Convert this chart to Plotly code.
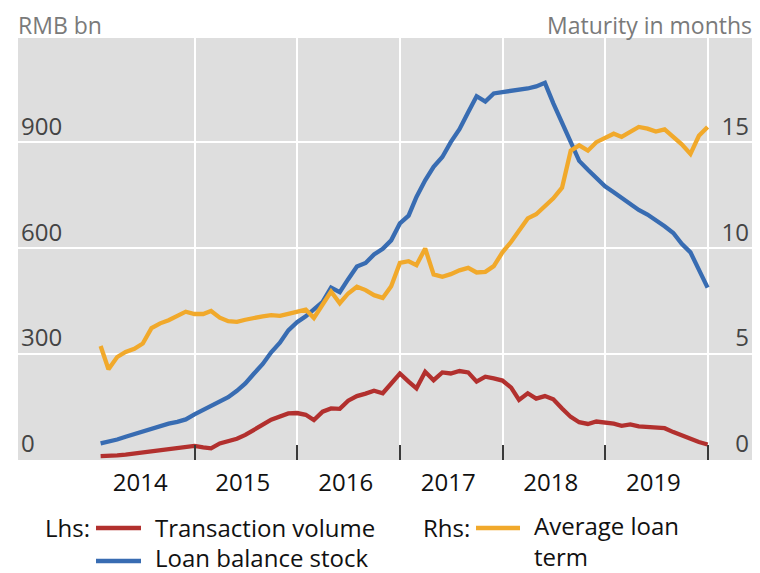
import plotly.graph_objects as go
import pandas as pd

# ---------------- data ----------------
months = pd.date_range("2014-01-31", periods=72, freq=pd.offsets.MonthEnd())

transaction_volume = [
    11, 11, 13, 15, 18, 21, 24, 26, 29, 32, 35, 40,
    36, 33, 47, 54, 60, 71, 84, 100, 114, 123, 132, 133,
    128, 113, 137, 146, 145, 168, 181, 188, 196, 189, 217, 245,
    222, 203, 250, 226, 248, 245, 252, 248, 222, 236, 231, 225,
    205, 170, 189, 174, 181, 172, 146, 122, 107, 102, 109, 106,
    103, 97, 101, 95, 94, 90, 90, 79, 69, 58, 51, 44,
]

loan_balance_stock = [
    47, 51, 58, 66, 74, 82, 89, 96, 103, 108, 115, 129,
    141, 153, 165, 178, 196, 217, 245, 272, 305, 332, 367, 390,
    407, 427, 448, 488, 475, 512, 548, 558, 582, 598, 622, 670,
    692, 745, 792, 830, 858, 900, 937, 985, 1030, 1015, 1038, 1042,
    1045, 1050, 1052, 1058, 1068, 1010, 957, 897, 847, 822, 800, 775,
    758, 742, 727, 708, 695, 680, 662, 643, 612, 588, 540, 488,
]

average_loan_term = [
    5.38, 4.28, 4.86, 5.10, 5.25, 5.50, 6.22, 6.45, 6.60, 6.80, 7.00, 6.89,
    6.89, 7.03, 6.72, 6.55, 6.52, 6.62, 6.72, 6.78, 6.84, 6.80, 6.90, 6.98,
    7.10, 6.70, 7.30, 7.95, 7.40, 7.86, 8.18, 8.02, 7.78, 7.65, 8.20, 9.30,
    9.38, 9.20, 9.98, 8.76, 8.65, 8.77, 8.95, 9.07, 8.85, 8.88, 9.15, 9.80,
    10.30, 10.85, 11.40, 11.60, 12.00, 12.35, 12.85, 14.60, 14.85, 14.60, 15.00, 15.20,
    15.40, 15.25, 15.50, 15.72, 15.64, 15.50, 15.60, 15.25, 14.90, 14.45, 15.30, 15.72,
]

year_labels = ["2014", "2015", "2016", "2017", "2018", "2019"]
year_label_dates = ["2014-06-21", "2015-06-21", "2016-06-21", "2017-06-21", "2018-06-21", "2019-06-21"]
year_boundaries = ["2015-01-01", "2016-01-01", "2017-01-01", "2018-01-01", "2019-01-01", "2020-01-01"]

lhs_ticks = [0, 300, 600, 900]
rhs_ticks = [0, 5, 10, 15]

# ---------------- styling ----------------
RED = "#b2302e"
BLUE = "#386cb2"
ORANGE = "#f1a92b"
FONT = "Open Sans"

OFF = 8                      # page body margin of the browser
W, H = 760 - OFF, 573 - OFF  # figure size so that the page fits the window
PL, PR, PT, PB = 18, 752, 38, 460   # plot area in window pixels
L, R, T, B = PL - OFF, (W + OFF) - PR, PT - OFF, (H + OFF) - PB
LHS_MAX = 1195
RHS_MAX = LHS_MAX / 60.0


def px(x):
    return (x - PL) / (PR - PL)


def py(y):
    return (PB - y) / (PB - PT)


fig = go.Figure()
fig.add_trace(go.Scatter(x=months, y=average_loan_term, mode="lines", name="Average loan term",
                         line=dict(color=ORANGE, width=4.3), yaxis="y2"))
fig.add_trace(go.Scatter(x=months, y=transaction_volume, mode="lines", name="Transaction volume",
                         line=dict(color=RED, width=4.3)))
fig.add_trace(go.Scatter(x=months, y=loan_balance_stock, mode="lines", name="Loan balance stock",
                         line=dict(color=BLUE, width=4.3)))

fig.update_layout(
    width=W, height=H,
    margin=dict(l=L, r=R, t=T, b=B, pad=0),
    paper_bgcolor="white",
    plot_bgcolor="#dedede",
    showlegend=False,
    font=dict(family=FONT, size=24, color="#111111"),
    xaxis=dict(
        type="date",
        range=["2013-04-12", "2020-06-06"],
        tickmode="array", tickvals=year_label_dates, ticktext=year_labels,
        ticks="", showgrid=False, zeroline=False, showline=False,
        ticklabelstandoff=6,
        minor=dict(tickmode="array", tickvals=year_boundaries, ticks="inside",
                   ticklen=15, tickwidth=2, tickcolor="#3a3a3a",
                   showgrid=True, gridcolor="white", gridwidth=2),
    ),
    yaxis=dict(
        range=[0, LHS_MAX], tickmode="array", tickvals=lhs_ticks,
        ticktext=[str(v) for v in lhs_ticks],
        showgrid=True, gridcolor="white", gridwidth=2, zeroline=False, showline=False,
        ticks="", ticklabelposition="inside", ticklabelshift=-16,
        ticklabeloverflow="allow",
    ),
    yaxis2=dict(
        overlaying="y", side="right",
        range=[0, RHS_MAX], tickmode="array", tickvals=rhs_ticks,
        ticktext=[str(v) for v in rhs_ticks],
        showgrid=False, zeroline=False, showline=False,
        ticks="", ticklabelposition="inside", ticklabelshift=-16,
        ticklabeloverflow="allow",
    ),
)

annotations = [
    dict(text="RMB bn", x=px(16), y=py(24.5), xanchor="left", yanchor="middle",
         font=dict(size=23, color="#7a7a7a")),
    dict(text="Maturity in months", x=px(754), y=py(24.5), xanchor="right", yanchor="middle",
         font=dict(size=23, color="#7a7a7a")),
    dict(text="Lhs:", x=px(43), y=py(527), xanchor="left", yanchor="middle"),
    dict(text="Transaction volume", x=px(153), y=py(527), xanchor="left", yanchor="middle"),
    dict(text="Loan balance stock", x=px(153), y=py(557.5), xanchor="left", yanchor="middle"),
    dict(text="Rhs:", x=px(421), y=py(527), xanchor="left", yanchor="middle"),
    dict(text="Average loan<br>term", x=px(532), y=py(541), xanchor="left", yanchor="middle",
         align="left"),
]
for a in annotations:
    a.update(xref="paper", yref="paper", showarrow=False)
fig.update_layout(annotations=annotations)

legend_lines = [
    (96, 141, 528, RED),
    (96, 141, 561, BLUE),
    (476, 520, 528, ORANGE),
]
for x0, x1, yy, c in legend_lines:
    fig.add_shape(type="line", xref="paper", yref="paper",
                  x0=px(x0), x1=px(x1), y0=py(yy), y1=py(yy),
                  line=dict(color=c, width=4.5))

fig.write_html("out.html")
